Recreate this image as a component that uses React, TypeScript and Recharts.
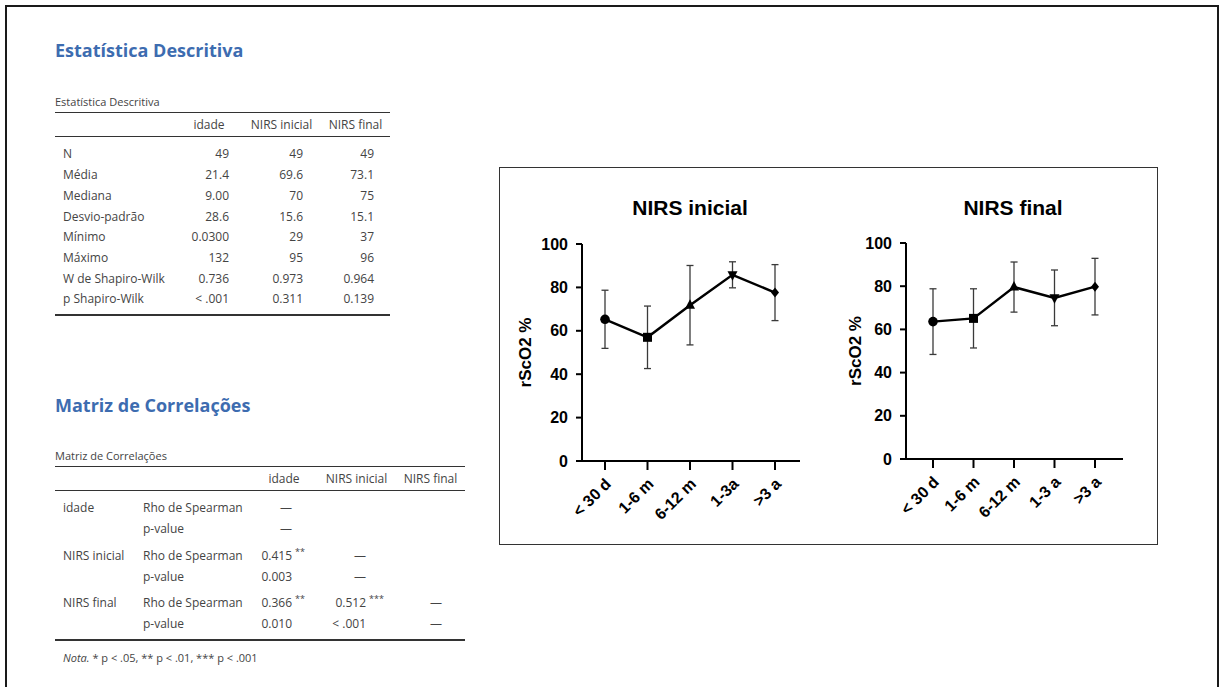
import React from "react";
import { ComposedChart, Line, ErrorBar, XAxis, YAxis } from "recharts";

// age groups and rScO2 summary (mean ± SD) per group
const ageGroupsInicial = ["< 30 d", "1-6 m", "6-12 m", "1-3a", ">3 a"];
const ageGroupsFinal = ["< 30 d", "1-6 m", "6-12 m", "1-3 a", ">3 a"];
const nirsInicialMean = [65.3, 57.0, 71.8, 85.8, 77.6];
const nirsInicialSd = [13.4, 14.4, 18.3, 6.0, 12.9];
const nirsFinalMean = [63.6, 65.1, 79.6, 74.6, 79.8];
const nirsFinalSd = [15.2, 13.7, 11.6, 12.9, 13.1];
const yTicks = [0, 20, 40, 60, 80, 100];
const markerShapes = ["circle", "square", "triangle", "triangleDown", "diamond"];

// descriptive statistics table
const descColumns = ["idade", "NIRS inicial", "NIRS final"];
const descRows = [
  "N",
  "Média",
  "Mediana",
  "Desvio-padrão",
  "Mínimo",
  "Máximo",
  "W de Shapiro-Wilk",
  "p Shapiro-Wilk",
];
const idadeStats = ["49", "21.4", "9.00", "28.6", "0.0300", "132", "0.736", "< .001"];
const nirsInicialStats = ["49", "69.6", "70", "15.6", "29", "95", "0.973", "0.311"];
const nirsFinalStats = ["49", "73.1", "75", "15.1", "37", "96", "0.964", "0.139"];

// correlation matrix table
const corrVars = ["idade", "NIRS inicial", "NIRS final"];
const corrStats = ["Rho de Spearman", "p-value"];
const corrIdade = ["—", "—", "0.415", "0.003", "0.366", "0.010"];
const corrNirsInicial = ["", "", "—", "—", "0.512", "< .001"];
const corrNirsFinal = ["", "", "", "", "—", "—"];
const corrStarsIdade = ["", "", "**", "", "**", ""];
const corrStarsNirsInicial = ["", "", "", "", "***", ""];

const TABLE_FONT = '"Open Sans", sans-serif';
const CHART_FONT = '"Liberation Sans", Arial, sans-serif';
const BLUE = "#3d6cb0";
const INK = "#444";

interface TxtProps {
  x: number;
  y: number;
  align?: "left" | "right" | "center";
  style?: React.CSSProperties;
  children: React.ReactNode;
}

function Txt({ x, y, align = "left", style, children }: TxtProps) {
  const tx = align === "left" ? "0" : align === "right" ? "-100%" : "-50%";
  return (
    <div
      style={{
        position: "absolute",
        left: x,
        top: y,
        transform: `translate(${tx}, -50%)`,
        whiteSpace: "nowrap",
        lineHeight: 1,
        fontFamily: TABLE_FONT,
        fontSize: 12,
        color: INK,
        ...style,
      }}
    >
      {children}
    </div>
  );
}

function Rule({ x, y, w, h = 1 }: { x: number; y: number; w: number; h?: number }) {
  return (
    <div style={{ position: "absolute", left: x, top: y, width: w, height: h, background: "#333" }} />
  );
}

function DescriptiveTable() {
  const rowY = [154, 175, 196, 216.5, 237, 258, 279, 299];
  const colRight = [229, 303, 374];
  const headCenter = [209, 281.5, 355.5];
  const cols = [idadeStats, nirsInicialStats, nirsFinalStats];
  return (
    <>
      <Txt x={55} y={50} style={{ fontSize: 18, fontWeight: 700, color: BLUE }}>
        Estatística Descritiva
      </Txt>
      <Txt x={55} y={101} style={{ fontSize: 11 }}>
        Estatística Descritiva
      </Txt>
      <Rule x={55} y={112} w={335} />
      {descColumns.map((c, i) => (
        <Txt key={c} x={headCenter[i]} y={125} align="center">
          {c}
        </Txt>
      ))}
      <Rule x={55} y={136} w={335} />
      {descRows.map((r, i) => (
        <React.Fragment key={r}>
          <Txt x={63} y={rowY[i]}>
            {r}
          </Txt>
          {cols.map((col, j) => (
            <Txt key={j} x={colRight[j]} y={rowY[i]} align="right">
              {col[i]}
            </Txt>
          ))}
        </React.Fragment>
      ))}
      <Rule x={55} y={314} w={335} h={2} />
    </>
  );
}

function CorrelationTable() {
  const rowY = [508.3, 529.3, 556, 576.7, 603.3, 624.3];
  const colRight = [292, 366, 442];
  const headCenter = [284, 356.5, 430.5];
  const cols = [corrIdade, corrNirsInicial, corrNirsFinal];
  const stars = [corrStarsIdade, corrStarsNirsInicial];
  return (
    <>
      <Txt x={55} y={405} style={{ fontSize: 18, fontWeight: 700, color: BLUE }}>
        Matriz de Correlações
      </Txt>
      <Txt x={55} y={455} style={{ fontSize: 11 }}>
        Matriz de Correlações
      </Txt>
      <Rule x={55} y={466} w={410} />
      {corrVars.map((c, i) => (
        <Txt key={c} x={headCenter[i]} y={479} align="center">
          {c}
        </Txt>
      ))}
      <Rule x={55} y={490} w={410} />
      {rowY.map((y, i) => (
        <React.Fragment key={i}>
          {i % 2 === 0 && (
            <Txt x={63} y={y}>
              {corrVars[i / 2]}
            </Txt>
          )}
          <Txt x={143} y={y}>
            {corrStats[i % 2]}
          </Txt>
          {cols.map((col, j) =>
            col[i] ? (
              <Txt key={j} x={colRight[j]} y={y} align="right">
                {col[i]}
              </Txt>
            ) : null
          )}
          {stars.map((s, j) =>
            s[i] ? (
              <Txt key={"s" + j} x={colRight[j] + 3} y={y - 5} style={{ fontSize: 9 }}>
                {s[i]}
              </Txt>
            ) : null
          )}
        </React.Fragment>
      ))}
      <Rule x={55} y={639} w={410} h={2} />
      <Txt x={63} y={657} style={{ fontSize: 11 }}>
        <i>Nota.</i> * p &lt; .05, ** p &lt; .01, *** p &lt; .001
      </Txt>
    </>
  );
}

function Marker({ cx, cy, shape }: { cx: number; cy: number; shape: string }) {
  if (shape === "square")
    return <rect x={cx - 4.5} y={cy - 4.5} width={9} height={9} fill="#000" />;
  if (shape === "triangle")
    return <polygon points={`${cx},${cy - 6} ${cx + 5},${cy + 3.5} ${cx - 5},${cy + 3.5}`} fill="#000" />;
  if (shape === "triangleDown")
    return <polygon points={`${cx},${cy + 6} ${cx + 5},${cy - 3.5} ${cx - 5},${cy - 3.5}`} fill="#000" />;
  if (shape === "diamond")
    return <polygon points={`${cx},${cy - 5} ${cx + 4},${cy} ${cx},${cy + 5} ${cx - 4},${cy}`} fill="#000" />;
  return <circle cx={cx} cy={cy} r={4.8} fill="#000" />;
}

function AgeTick({ x, y, payload }: any) {
  const ax = x + 7;
  const ay = y + 13;
  return (
    <text
      x={ax}
      y={ay}
      transform={`rotate(-45 ${ax} ${ay})`}
      textAnchor="end"
      fontFamily={CHART_FONT}
      fontWeight={700}
      fontSize={16}
      fill="#000"
    >
      {payload.value}
    </text>
  );
}

interface GroupChartProps {
  title: string;
  groups: string[];
  means: number[];
  sds: number[];
  left: number;
  top: number;
  margin: { top: number; right: number; bottom: number; left: number };
  padLeft: number;
  padRight: number;
  labelX: number;
  titleX: number;
}

const CHART_W = 300;
const CHART_H = 360;
const X_AXIS_H = 60;

function GroupChart({
  title,
  groups,
  means,
  sds,
  left,
  top,
  margin,
  padLeft,
  padRight,
  labelX,
  titleX,
}: GroupChartProps) {
  const data = groups.map((g, i) => ({ group: g, mean: means[i], sd: sds[i] }));
  const midY = (margin.top + (CHART_H - margin.bottom - X_AXIS_H)) / 2;
  const lx = labelX - left;

  return (
    <>
      <div
        style={{
          position: "absolute",
          left: titleX,
          top: 207,
          transform: "translate(-50%, -50%)",
          fontFamily: CHART_FONT,
          fontWeight: 700,
          fontSize: 21,
          lineHeight: 1,
          whiteSpace: "nowrap",
          color: "#000",
        }}
      >
        {title}
      </div>
      <div style={{ position: "absolute", left, top }}>
        <ComposedChart width={CHART_W} height={CHART_H} data={data} margin={margin}>
          <XAxis
            dataKey="group"
            type="category"
            interval={0}
            padding={{ left: padLeft, right: padRight }}
            height={X_AXIS_H}
            axisLine={{ stroke: "#000", strokeWidth: 2 }}
            tickLine={{ stroke: "#000", strokeWidth: 2 }}
            tickSize={9}
            tick={<AgeTick />}
          />
          <YAxis
            type="number"
            domain={[0, 100]}
            ticks={yTicks}
            width={72}
            axisLine={{ stroke: "#000", strokeWidth: 2 }}
            tickLine={{ stroke: "#000", strokeWidth: 2 }}
            tickSize={6}
            tickMargin={8}
            tick={{ fill: "#000", fontSize: 16, fontWeight: 700, fontFamily: CHART_FONT }}
          />
          <text
            x={lx}
            y={midY}
            transform={`rotate(-90 ${lx} ${midY})`}
            textAnchor="middle"
            dominantBaseline="central"
            fontFamily={CHART_FONT}
            fontWeight={700}
            fontSize={17}
            fill="#000"
          >
            rScO2 %
          </text>
          <Line
            dataKey="mean"
            stroke="#000"
            strokeWidth={2.5}
            isAnimationActive={false}
            activeDot={false}
            dot={(p: any) => (
              <Marker key={p.index} cx={p.cx} cy={p.cy} shape={markerShapes[p.index]} />
            )}
          >
            <ErrorBar
              dataKey="sd"
              direction="y"
              width={3.5}
              stroke="#3a3a3a"
              strokeWidth={1.3}
              isAnimationActive={false}
            />
          </Line>
        </ComposedChart>
      </div>
    </>
  );
}

export default function App() {
  return (
    <div
      style={{
        position: "absolute",
        left: 0,
        top: 0,
        width: 1219,
        height: 687,
        background: "#fff",
        overflow: "hidden",
      }}
    >
      <div
        style={{
          position: "absolute",
          left: 5,
          top: 5,
          width: 1210,
          height: 700,
          border: "2px solid #1a1a1a",
        }}
      />
      <DescriptiveTable />
      <CorrelationTable />
      <div
        style={{
          position: "absolute",
          left: 499,
          top: 167,
          width: 657,
          height: 376,
          border: "1.5px solid #333",
        }}
      />
      <GroupChart
        title="NIRS inicial"
        groups={ageGroupsInicial}
        means={nirsInicialMean}
        sds={nirsInicialSd}
        left={510}
        top={180}
        margin={{ top: 64, right: 10, bottom: 19, left: 0 }}
        padLeft={23}
        padRight={25}
        labelX={525}
        titleX={690}
      />
      <GroupChart
        title="NIRS final"
        groups={ageGroupsFinal}
        means={nirsFinalMean}
        sds={nirsFinalSd}
        left={834}
        top={180}
        margin={{ top: 63, right: 11, bottom: 21, left: 0 }}
        padLeft={27}
        padRight={28}
        labelX={855}
        titleX={1013}
      />
    </div>
  );
}
